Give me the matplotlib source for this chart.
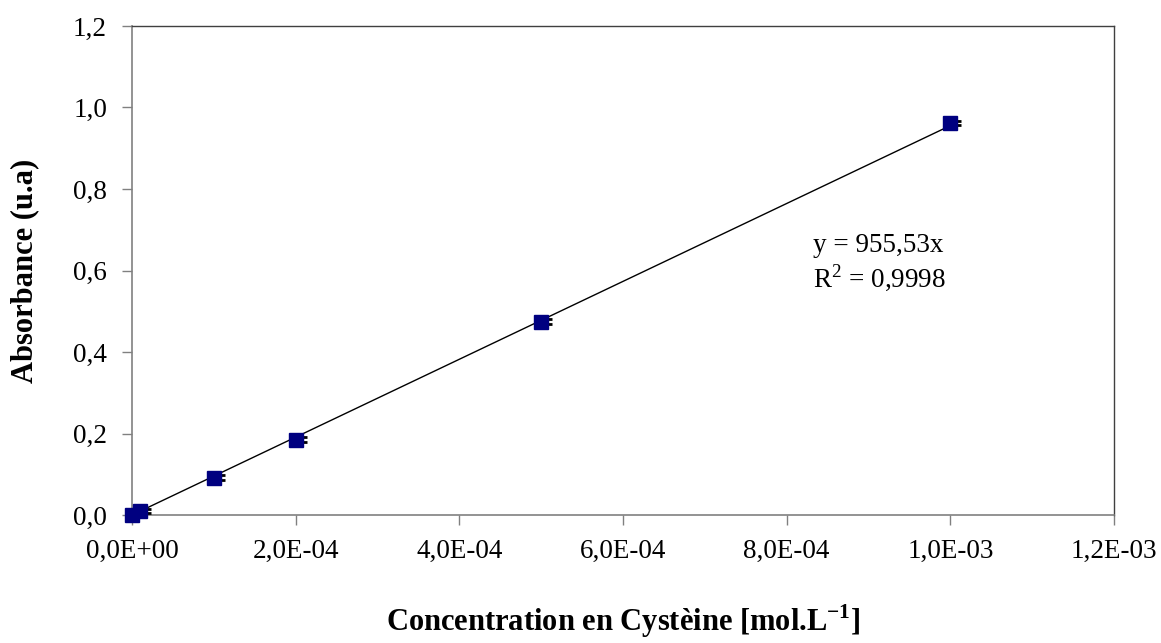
import numpy as np
import matplotlib
matplotlib.use("Agg")
import matplotlib.pyplot as plt
import matplotlib.transforms as mtransforms

# data
conc = [0.0, 1e-5, 1e-4, 2e-4, 5e-4, 1e-3]
absorb = [0.0, 0.010, 0.092, 0.185, 0.474, 0.962]
abs_err = [0.006, 0.006, 0.006, 0.006, 0.006, 0.006]
slope = 955.53
r2_text = "0,9998"
x_ticks = [0, 2e-4, 4e-4, 6e-4, 8e-4, 1e-3, 1.2e-3]
x_labels = ["0,0E+00", "2,0E-04", "4,0E-04", "6,0E-04", "8,0E-04", "1,0E-03", "1,2E-03"]
y_ticks = [0.0, 0.2, 0.4, 0.6, 0.8, 1.0, 1.2]
y_labels = ["0,0", "0,2", "0,4", "0,6", "0,8", "1,0", "1,2"]

plt.rcParams['font.family'] = ['Liberation Serif', 'DejaVu Serif']
plt.rcParams['mathtext.fontset'] = 'custom'
plt.rcParams['mathtext.rm'] = 'Liberation Serif'
plt.rcParams['mathtext.bf'] = 'Liberation Serif:bold'

fig = plt.figure(figsize=(11.61, 6.43), dpi=100)
ax = fig.add_axes([0.1137, 0.199, 0.8458, 0.7606])

# trend line
xfit = np.array([0, max(conc)])
ax.plot(xfit, slope * xfit, color='black', linewidth=1, zorder=2)

# error bars, drawn slightly to the right like the original
shift = mtransforms.offset_copy(ax.transData, fig=fig, x=7, y=0, units='dots')
ax.errorbar(conc, absorb, yerr=abs_err, fmt='none', ecolor='black',
            elinewidth=1.5, capsize=3, capthick=2, transform=shift,
            zorder=3, clip_on=False)

ax.plot(conc, absorb, linestyle='none', marker='s', markersize=9.5,
        color='#000080', markeredgecolor='#000080', zorder=4, clip_on=False)

ax.set_xlim(0, 1.2e-3)
ax.set_ylim(0, 1.2)
ax.set_xticks(x_ticks)
ax.set_xticklabels(x_labels)
ax.set_yticks(y_ticks)
ax.set_yticklabels(y_labels)
ax.tick_params(axis='both', direction='out', length=7, width=1,
               color='#808080', labelsize=19.5, labelcolor='black')
ax.tick_params(axis='x', pad=10)
ax.tick_params(axis='y', pad=11)

for s in ['left', 'bottom']:
    ax.spines[s].set_color('#808080')
    ax.spines[s].set_linewidth(1.2)
for s in ['top', 'right']:
    ax.spines[s].set_color('#404040')
    ax.spines[s].set_linewidth(1)

ax.set_ylabel("Absorbance (u.a)", fontsize=22, fontweight='bold', labelpad=24)
ax.set_xlabel(r"Concentration en Cystèine [mol.L$^{\mathbf{-1}}$]",
              fontsize=22, fontweight='bold', labelpad=28)

ax.text(0.693, 0.538, "y = " + f"{slope:.2f}".replace('.', ',') + "x",
        transform=ax.transAxes, fontsize=19.5)
ax.text(0.693, 0.466, r"R$^{2}$ = " + r2_text, transform=ax.transAxes, fontsize=19.5)

fig.savefig("out.png", dpi=100)
